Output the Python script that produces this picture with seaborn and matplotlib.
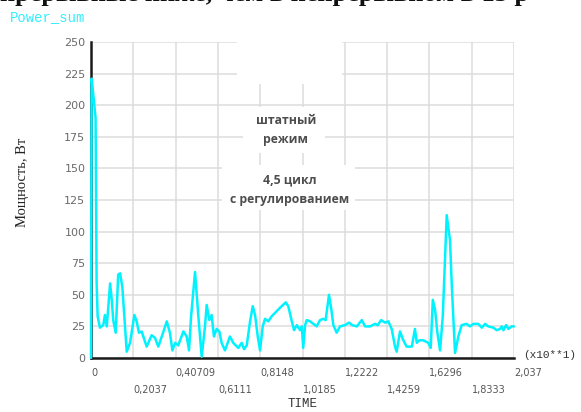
import matplotlib
matplotlib.use("Agg")
import matplotlib.pyplot as plt
import pandas as pd
import seaborn as sns
from matplotlib.patches import Rectangle

# Power_sum trace (W) over TIME (x10**1 s)
time = [0.000, 0.003, 0.010, 0.022, 0.027, 0.032, 0.043, 0.059, 0.067, 0.076,
        0.092, 0.100, 0.107, 0.119, 0.131, 0.140, 0.151, 0.172, 0.188, 0.209,
        0.220, 0.231, 0.244, 0.268, 0.292, 0.308, 0.324, 0.343, 0.365, 0.380,
        0.392, 0.405, 0.420, 0.445, 0.461, 0.472, 0.482, 0.501, 0.517, 0.533,
        0.549, 0.557, 0.570, 0.581, 0.592, 0.605, 0.618, 0.629, 0.645, 0.669,
        0.685, 0.709, 0.726, 0.737, 0.750, 0.766, 0.779, 0.790, 0.803, 0.814,
        0.827, 0.838, 0.854, 0.870, 0.894, 0.918, 0.938, 0.950, 0.967, 0.978,
        0.991, 1.007, 1.015, 1.022, 1.031, 1.039, 1.055, 1.071, 1.087, 1.103,
        1.119, 1.130, 1.146, 1.156, 1.167, 1.183, 1.199, 1.223, 1.243, 1.258,
        1.280, 1.304, 1.320, 1.344, 1.368, 1.381, 1.397, 1.416, 1.432, 1.448,
        1.464, 1.472, 1.488, 1.504, 1.520, 1.545, 1.560, 1.569, 1.581, 1.600,
        1.624, 1.636, 1.646, 1.657, 1.668, 1.681, 1.694, 1.713, 1.729, 1.737,
        1.753, 1.769, 1.785, 1.809, 1.825, 1.841, 1.865, 1.882, 1.898, 1.913,
        1.938, 1.954, 1.970, 1.978, 1.986, 1.999, 2.010, 2.026, 2.037]
power = [0, 221, 210, 190, 60, 33, 24, 26, 34, 25,
         59, 46, 30, 20, 66, 67, 56, 5, 12, 34,
         29, 20, 21, 9, 18, 16, 9, 18, 29, 20,
         6, 12, 10, 21, 17, 6, 33, 68, 33, 1,
         25, 42, 30, 34, 17, 23, 21, 12, 6, 17,
         12, 8, 12, 7, 10, 29, 41, 34, 17, 6,
         25, 31, 29, 33, 37, 41, 44, 41, 29, 22,
         26, 22, 25, 8, 26, 30, 29, 27, 25, 30,
         31, 30, 50, 40, 26, 20, 25, 26, 28, 26,
         25, 30, 25, 25, 27, 26, 30, 28, 29, 23,
         9, 5, 21, 14, 9, 9, 23, 12, 14, 14,
         12, 8, 46, 38, 20, 6, 33, 113, 93, 59,
         4, 17, 26, 27, 25, 27, 27, 24, 27, 25,
         24, 22, 23, 25, 22, 26, 23, 25, 25]

x_ticks = [0, 0.2037, 0.40709, 0.6111, 0.8148, 1.0185,
           1.2222, 1.4259, 1.6296, 1.8333, 2.037]
x_tick_labels = ["0", "0,2037", "0,40709", "0,6111", "0,8148", "1,0185",
                 "1,2222", "1,4259", "1,6296", "1,8333", "2,037"]
y_ticks = [0, 25, 50, 75, 100, 125, 150, 175, 200, 225, 250]

mode_label = "штатный\nрежим"
cycle_label = "4,5 цикл\nс регулированием"

sns.set_theme(style="whitegrid")
plt.rcParams["font.family"] = ["DejaVu Sans"]

fig = plt.figure(figsize=(5.81, 4.12), dpi=100)
ax = fig.add_axes([91 / 581, 1 - 358 / 412, 423 / 581, 316 / 412])

df = pd.DataFrame({"TIME": time, "Power_sum": power})
sns.lineplot(data=df, x="TIME", y="Power_sum", ax=ax, estimator=None,
             color="#00f2ff", linewidth=1.8, zorder=5, clip_on=False)

ax.set_xlim(0, 2.037)
ax.set_ylim(0, 250)
ax.set_facecolor("white")

ax.grid(True, color="#dcdcdc", linewidth=1.1)
for side in ("top", "right"):
    ax.spines[side].set_visible(False)
for side in ("left", "bottom"):
    ax.spines[side].set_visible(True)
    ax.spines[side].set_color("#1a1a1a")
    ax.spines[side].set_linewidth(1.8)
    ax.spines[side].set_zorder(4)

ax.set_yticks(y_ticks)
ax.set_yticklabels([str(v) for v in y_ticks])
ax.set_xticks(x_ticks)
ax.set_xticklabels(x_tick_labels)

ax.tick_params(axis="y", length=0, pad=4, labelsize=8, labelcolor="#6a6a6a")
ax.tick_params(axis="x", length=7, width=1.1, color="#dcdcdc", pad=0.5,
               labelsize=7, labelcolor="#555555")
for lbl in ax.get_xticklabels():
    lbl.set_ha("left")
for i, tick in enumerate(ax.xaxis.get_major_ticks()):
    if i % 2:
        tick.set_pad(12.5)

ax.set_xlabel("TIME", family="Liberation Mono", fontsize=9, color="#333333")
ax.xaxis.set_label_coords(0.5, -0.127)
ax.set_ylabel("Мощность, Вт", family="Liberation Serif", fontsize=10.5,
              color="#222222")
ax.yaxis.set_label_coords(-0.146, 0.557)

# white panels behind the annotations
for (x0, x1, y0, y1) in [(0.703, 1.209, 216.7, 250.0),
                         (0.732, 1.127, 162.0, 198.5),
                         (0.631, 1.271, 117.0, 152.7)]:
    ax.add_patch(Rectangle((x0, y0), x1 - x0, y1 - y0, facecolor="white",
                           edgecolor="none", zorder=1.5))

ax.text(0.939, 180, mode_label, ha="center", va="center", family="Open Sans",
        fontweight="bold", fontsize=8.8, color="#4d4d4d", linespacing=1.6,
        zorder=3)
ax.text(0.956, 133.3, cycle_label, ha="center", va="center", family="Open Sans",
        fontweight="bold", fontsize=8.8, color="#4d4d4d", linespacing=1.6,
        zorder=3)

ax.text(1.021, 0.010, "(x10**1)", transform=ax.transAxes, ha="left",
        va="center", family="Liberation Mono", fontsize=8, color="#333333")

fig.text(10 / 581, 1 - 17 / 412, "Power_sum", family="Liberation Mono",
         fontsize=10, color="#33eeff", va="center", ha="left")

fig.text(0.0, 1 - 1 / 412, "прерывные ниже, чем в непрерывном в 13 р",
         family="Liberation Serif", fontweight="bold", fontsize=19,
         color="#111111", ha="left", va="baseline")

fig.savefig("out.png", dpi=100, facecolor="white")
